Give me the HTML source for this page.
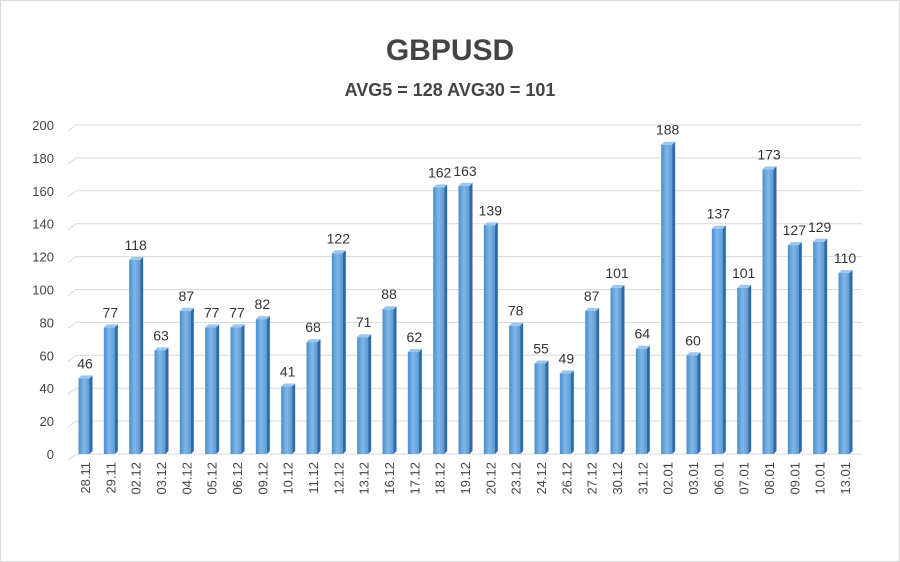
<!DOCTYPE html>
<html><head><meta charset="utf-8"><style>
body{margin:0;background:#fff;}
svg{display:block;font-family:"Liberation Sans",sans-serif;}
</style></head><body>
<svg id="chart" width="900" height="562" viewBox="0 0 900 562">
<rect x="0.5" y="0.5" width="899" height="561" fill="#fff" stroke="#d9d9d9"/>
<text x="450" y="60" text-anchor="middle" font-size="30" font-weight="bold" fill="#444">GBPUSD</text>
<text x="450" y="96" text-anchor="middle" font-size="18" font-weight="bold" fill="#444">AVG5 = 128 AVG30 = 101</text>
<defs>
<linearGradient id="bg" x1="0" x2="1"><stop offset="0" stop-color="#4a8fd0"/><stop offset="0.5" stop-color="#7fb6e6"/><stop offset="1" stop-color="#5b9bd5"/></linearGradient>
</defs>
<g id="grid"></g><g id="bars"></g><g id="labels"></g>
</svg>
<script>
const categories=["28.11","29.11","02.12","03.12","04.12","05.12","06.12","09.12","10.12","11.12","12.12","13.12","16.12","17.12","18.12","19.12","20.12","23.12","24.12","26.12","27.12","30.12","31.12","02.01","03.01","06.01","07.01","08.01","09.01","10.01","13.01"];
const values=[46,77,118,63,87,77,77,82,41,68,122,71,88,62,162,163,139,78,55,49,87,101,64,188,60,137,101,173,127,129,110];
const yTicks=[0,20,40,60,80,100,120,140,160,180,200];
const NS="http://www.w3.org/2000/svg";
const x0=85,x1=845,y0=454,y1=125;
const n=categories.length;
const step=(x1-x0)/(n-1);
function xs(i){return x0+i*step;}
function ys(v){return y0-(v/200)*(y0-y1);}
function mk(tag,attrs,parent){const e=document.createElementNS(NS,tag);for(const k in attrs)e.setAttribute(k,attrs[k]);parent.appendChild(e);return e;}
const grid=document.getElementById('grid'),bars=document.getElementById('bars'),labels=document.getElementById('labels');
yTicks.forEach(t=>{
 const y=ys(t);
 const l=mk('polyline',{points:`68,${y+6} 76,${y} 862,${y}`,fill:'none',stroke:'#d9d9d9','stroke-width':1},grid);
 
 
 const tx=mk('text',{x:54,y:y+5,'text-anchor':'end','font-size':13,fill:'#444'},grid);
 tx.textContent=t;
 
 
});
const bw=11;
values.forEach((v,i)=>{
 const cx=xs(i),y=ys(v),left=cx-bw/2-1;
 const g=mk('g',{},bars);
 
 
 mk('rect',{x:left,y:y,width:bw,height:y0-y,fill:'url(#bg)'},g);
 mk('polygon',{points:`${left+bw},${y} ${left+bw+3},${y-3} ${left+bw+3},${y0-3} ${left+bw},${y0}`,fill:'#2e6aa5'},g);
 mk('polygon',{points:`${left},${y} ${left+3},${y-3} ${left+bw+3},${y-3} ${left+bw},${y}`,fill:'#9cc6ee'},g);
 const vt=mk('text',{x:cx,y:y-10,'text-anchor':'middle','font-size':14,fill:'#333'},labels);
 vt.textContent=v;
 
 
 const ct=mk('text',{x:0,y:0,'text-anchor':'end','font-size':13,fill:'#444',transform:`translate(${cx+5},462) rotate(-90)`},labels);
 ct.textContent=categories[i];
 
 
});
</script>
</body></html>
